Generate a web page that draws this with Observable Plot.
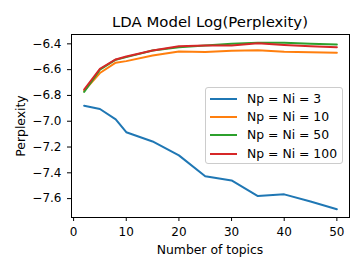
<!DOCTYPE html>
<html><head><meta charset="utf-8">
<script src="https://cdn.jsdelivr.net/npm/d3@7"></script>
<script src="https://cdn.jsdelivr.net/npm/@observablehq/plot@0.6"></script>
<style>
body{margin:0;background:#fff;font-family:"DejaVu Sans",sans-serif;}
#wrap{position:relative;width:363px;height:272px;overflow:hidden;}
#wrap svg{position:absolute;left:0;top:0;}
.t{position:absolute;color:#000;white-space:nowrap;}
#title{left:0;width:420px;top:13px;text-align:center;font-size:14.9px;}
#xlab{left:0;width:420px;top:242px;text-align:center;font-size:12.4px;}
#ylab{left:21px;top:126px;font-size:12.4px;line-height:14px;transform:translate(-50%,-50%) rotate(-90deg);}
#legend{position:absolute;left:205px;top:87px;width:138px;height:77px;border:1px solid #ccc;border-radius:3px;background:rgba(255,255,255,0.8);box-sizing:border-box;}
.row{position:absolute;left:4px;font-size:12.4px;height:16px;line-height:16px;}
.row span.sw{position:absolute;left:0;top:7px;width:27px;height:2px;}
.row span.lb{position:absolute;left:37px;top:0;white-space:nowrap;}
</style></head><body>
<div id="wrap"></div>
<script>
const topics = [2, 5, 8, 10, 15, 20, 25, 30, 35, 40, 45, 50];
const seriesNames = ["Np = Ni = 3", "Np = Ni = 10", "Np = Ni = 50", "Np = Ni = 100"];
const np3   = [-6.88, -6.905, -6.985, -7.085, -7.157, -7.265, -7.426, -7.459, -7.58, -7.567, -7.623, -7.682];
const np10  = [-6.764, -6.626, -6.546, -6.534, -6.49, -6.459, -6.464, -6.454, -6.449, -6.462, -6.466, -6.469];
const np50  = [-6.772, -6.60, -6.523, -6.503, -6.452, -6.426, -6.413, -6.40, -6.392, -6.392, -6.40, -6.405];
const np100 = [-6.754, -6.593, -6.521, -6.498, -6.452, -6.418, -6.413, -6.413, -6.395, -6.408, -6.418, -6.426];
const colors = ["#1f77b4", "#ff7f0e", "#2ca02c", "#d62728"];
const xTicks = [0, 10, 20, 30, 40, 50];
const yTicks = [-7.6, -7.4, -7.2, -7.0, -6.8, -6.6, -6.4];

const allSeries = [np3, np10, np50, np100];
const rows = allSeries.map((vals, i) => topics.map((t, j) => ({x: t, y: vals[j], s: seriesNames[i]})));

const chart = Plot.plot({
  width: 363, height: 272,
  marginLeft: 71, marginRight: 14, marginTop: 34, marginBottom: 55,
  style: {fontFamily: "DejaVu Sans", fontSize: "12px", color: "#000", background: "transparent"},
  x: {domain: [-0.4, 52.4], ticks: xTicks, tickSize: 4, tickPadding: 6, label: null},
  y: {domain: [-7.7465, -6.3275], ticks: yTicks, tickFormat: d3.format(".1f"), tickSize: 4, tickPadding: 6, label: null},
  marks: [
    ...rows.map((r, i) => Plot.line(r, {x: "x", y: "y", stroke: colors[i], strokeWidth: 2})),
    Plot.frame({stroke: "#000", strokeWidth: 1})
  ]
});
const wrap = document.getElementById("wrap");
wrap.appendChild(chart);

function addText(id, txt){ const d=document.createElement("div"); d.className="t"; d.id=id; d.textContent=txt; wrap.appendChild(d); }
addText("title", "LDA Model Log(Perplexity)");
addText("xlab", "Number of topics");
addText("ylab", "Perplexity");

const lg = document.createElement("div"); lg.id = "legend";
seriesNames.forEach((n, i) => {
  const r = document.createElement("div"); r.className = "row"; r.style.top = (3 + i * 18.2) + "px";
  const sw = document.createElement("span"); sw.className = "sw"; sw.style.background = colors[i];
  const lb = document.createElement("span"); lb.className = "lb"; lb.textContent = n;
  r.appendChild(sw); r.appendChild(lb); lg.appendChild(r);
});
wrap.appendChild(lg);
</script>
</body></html>
